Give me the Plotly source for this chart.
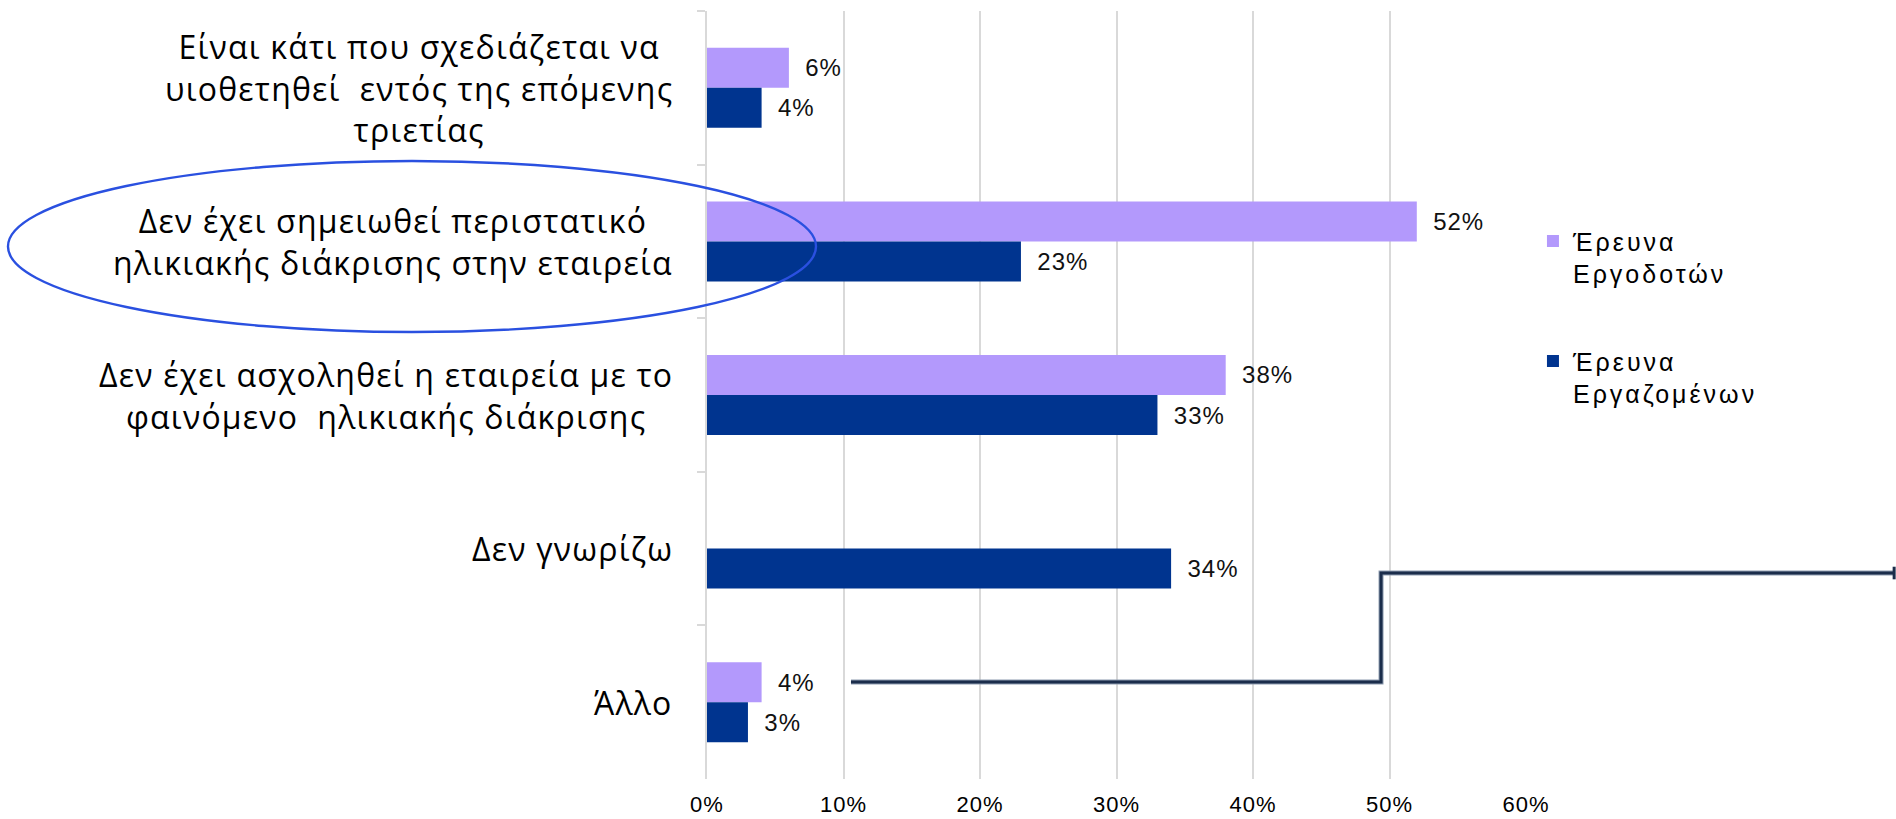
import plotly.graph_objects as go

# Survey answers (y categories, top to bottom)
categories = [
    "Είναι κάτι που σχεδιάζεται να<br>υιοθετηθεί  εντός της επόμενης<br>τριετίας",
    "Δεν έχει σημειωθεί περιστατικό<br>ηλικιακής διάκρισης στην εταιρεία",
    "Δεν έχει ασχοληθεί η εταιρεία με το<br>φαινόμενο  ηλικιακής διάκρισης",
    "Δεν γνωρίζω",
    "Άλλο",
]
series_names = ["Έρευνα<br>Εργοδοτών", "Έρευνα<br>Εργαζομένων"]
employers = [0.06, 0.52, 0.38, None, 0.04]
employees = [0.04, 0.23, 0.33, 0.34, 0.03]
x_ticks = [0, 0.1, 0.2, 0.3, 0.4, 0.5, 0.6]
x_tick_labels = ["0%", "10%", "20%", "30%", "40%", "50%", "60%"]

colors = ["#b399fc", "#00348f"]
ARIAL = "Liberation Sans, Arial, sans-serif"


def spaced(text, px):
    """Wrap every line of a <br>-separated string in a letter-spaced span."""
    return "<br>".join(
        f"<span style='letter-spacing:{px}px'>{line}</span>" for line in text.split("<br>")
    )


fig = go.Figure()
for name, vals, col, grp in zip(series_names, [employers, employees], colors, ["a", "b"]):
    fig.add_trace(go.Bar(
        y=categories,
        x=vals,
        name=spaced(name, 3),
        orientation="h",
        marker=dict(color=col, line=dict(width=0)),
        text=[None if v is None else f"{round(v * 100)}%" for v in vals],
        texttemplate="\u00a0\u00a0<span style='letter-spacing:1px'>%{text}</span>",
        textposition="outside",
        textfont=dict(family=ARIAL, size=24, color="#111111"),
        constraintext="none",
        cliponaxis=False,
        legendgroup=grp,
        hoverinfo="skip",
    ))

# Category labels, centred in multi-line blocks to the left of the axis
annotations = []
for cat in categories:
    annotations.append(dict(
        x=0, xref="paper", y=cat, yref="y",
        text=spaced(cat, 1.2), showarrow=False,
        xanchor="right", yanchor="middle", align="center",
        xshift=-32,
        font=dict(family="Open Sans, Noto Sans, sans-serif", size=32, color="#000000"),
    ))

connector = "M0.1758,0.1263 L0.8230,0.1263 L0.8230,0.2682 L1.4505,0.2682"
shapes = [
    # highlight ring around the second answer
    dict(type="circle", xref="paper", yref="paper",
         x0=-0.8535, x1=0.1331, y0=0.582, y1=0.8047,
         line=dict(color="#2a50e0", width=2.4), layer="above"),
    # elbow connector leading off to the right
    dict(type="path", xref="paper", yref="paper", path=connector,
         line=dict(color="#8e9cb0", width=5), layer="above"),
    dict(type="path", xref="paper", yref="paper", path=connector,
         line=dict(color="#1b2d4b", width=3), layer="above"),
    dict(type="line", xref="paper", yref="paper",
         x0=1.4495, x1=1.4495, y0=0.2600, y1=0.2764,
         line=dict(color="#1b2d4b", width=3), layer="above"),
]

fig.update_layout(
    width=1896, height=819,
    margin=dict(l=707, r=370, t=11, b=40, pad=0, autoexpand=False),
    paper_bgcolor="white", plot_bgcolor="white",
    barmode="group", bargap=0.479, bargroupgap=0,
    annotations=annotations,
    shapes=shapes,
    showlegend=True,
    legend=dict(
        x=1.0085, y=0.73, xanchor="left", yanchor="top",
        traceorder="grouped", tracegroupgap=52, valign="top",
        font=dict(family=ARIAL, size=25, color="#000000"),
        bgcolor="rgba(0,0,0,0)", itemclick=False, itemdoubleclick=False,
    ),
    xaxis=dict(
        range=[0, 0.6], tickvals=x_ticks,
        ticktext=[spaced(t, 1) for t in x_tick_labels],
        showgrid=True, gridcolor="#d9d9d9", gridwidth=2,
        zeroline=False, showline=False, ticks="",
        tickfont=dict(family=ARIAL, size=22, color="#000000"),
        ticklabelstandoff=10, automargin=False,
    ),
    yaxis=dict(
        type="category", categoryorder="array", categoryarray=categories,
        autorange="reversed", automargin=False,
        showticklabels=False, showgrid=False, zeroline=False,
        showline=True, linecolor="#d9d9d9", linewidth=2,
        ticks="outside", tickson="boundaries", ticklen=8,
        tickcolor="#d9d9d9", tickwidth=2,
    ),
)

fig.write_html("out.html")
